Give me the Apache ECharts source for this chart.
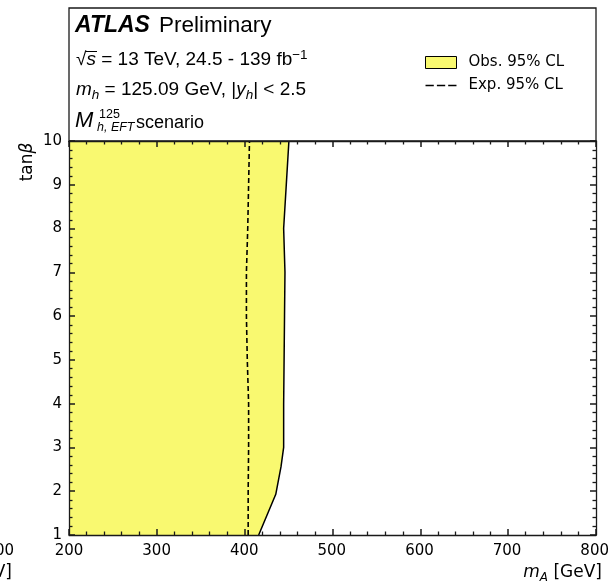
<!DOCTYPE html>
<html>
<head>
<meta charset="utf-8">
<script src="https://cdn.jsdelivr.net/npm/echarts@6/dist/echarts.min.js"></script>
<style>
  html, body { margin: 0; padding: 0; background: #fff; }
  #wrap { position: relative; width: 612px; height: 583px; }
  #chart, #frame { position: absolute; left: 0; top: 0; width: 612px; height: 583px; }
  #frame { pointer-events: none; }
</style>
</head>
<body>
<div id="wrap">
  <div id="chart"></div>
  <div id="frame"></div>
</div>
<script>
// Axis ranges
const mARange = [200, 800];
const tanBetaRange = [1, 10];

// Observed 95% CL exclusion boundary (m_A in GeV vs tan beta)
const obsTanBeta = [1, 1.93, 2.56, 3, 4, 5, 6, 7, 8, 9, 10];
const obsMA      = [416.5, 436, 442, 445, 445, 445.5, 446, 446.5, 445, 448, 451];

// Expected 95% CL boundary
const expTanBeta = [1, 2, 3, 4, 5, 6, 7, 8, 9, 10];
const expMA      = [404.5, 404.5, 405, 405, 403.5, 402.5, 402.5, 404, 405, 406];

const FILL = 'rgb(249,249,112)';
const AXIS = '#1a1a1a';
const MATH = 'DejaVu Sans';
const HEAD = 'Liberation Sans';
const GRID = { left: 69, right: 16, top: 141, bottom: 48, containLabel: false };

// dashed-line legend key: three short bars, with two specks fixing the icon box to 31x12
const DASH_ICON = 'path://M0,0h0.01v0.01h-0.01z M31,12h0.01v0.01h-0.01z ' +
  'M0,5.25h8.3v1.5h-8.3z M11.4,5.25h8.3v1.5h-8.3z M22.7,5.25h8.3v1.5h-8.3z';

const labelStyle = { color: '#000', fontSize: 15, fontFamily: MATH };

// ---------- main chart: filled region, boundaries, labels, legend ----------
function plainAxis(extra) {
  return Object.assign({
    type: 'value',
    axisLine: { show: false },
    axisTick: { show: false },
    minorTick: { show: false },
    splitLine: { show: false },
    minorSplitLine: { show: false }
  }, extra);
}

const chart = echarts.init(document.getElementById('chart'), null, { renderer: 'canvas' });
chart.setOption({
  animation: false,
  backgroundColor: '#fff',
  grid: GRID,
  xAxis: [plainAxis({ position: 'bottom', min: mARange[0], max: mARange[1], interval: 100,
    axisLabel: Object.assign({ margin: 9 }, labelStyle) })],
  yAxis: [plainAxis({ position: 'left', min: tanBetaRange[0], max: tanBetaRange[1], interval: 1,
    axisLabel: Object.assign({ margin: 7 }, labelStyle) })],
  legend: {
    orient: 'vertical',
    left: 425,
    top: 55,
    padding: 0,
    itemWidth: 31,
    itemHeight: 12,
    itemGap: 8,
    textStyle: { color: '#000', fontSize: 15, fontFamily: MATH, padding: [0, 0, 0, 7] },
    data: [
      { name: 'Obs. 95% CL', icon: 'rect', itemStyle: { color: FILL, borderColor: '#000', borderWidth: 1 } },
      { name: 'Exp. 95% CL', icon: DASH_ICON, itemStyle: { color: '#000', borderWidth: 0 } }
    ]
  },
  series: [
    {
      // excluded region: from the left edge of the axis up to the observed boundary
      name: 'Obs. 95% CL',
      type: 'custom',
      itemStyle: { color: FILL },
      data: [[mARange[0], tanBetaRange[0]]],
      renderItem: function (params, api) {
        const n = obsMA.length;
        const pts = [[mARange[0], obsTanBeta[0]]];
        for (let i = 0; i < n; i++) pts.push([obsMA[i], obsTanBeta[i]]);
        pts.push([mARange[0], obsTanBeta[n - 1]]);
        return {
          type: 'polygon',
          shape: { points: pts.map(p => api.coord(p)) },
          style: { fill: FILL, stroke: null }
        };
      },
      z: 1
    },
    {
      name: 'obs-boundary',
      type: 'line',
      data: obsMA.map((m, i) => [m, obsTanBeta[i]]),
      symbol: 'none',
      lineStyle: { color: '#000', width: 1.5 },
      z: 3
    },
    {
      name: 'Exp. 95% CL',
      type: 'line',
      data: expMA.map((m, i) => [m, expTanBeta[i]]),
      symbol: 'none',
      itemStyle: { color: '#000' },
      lineStyle: { color: '#000', width: 1.6, type: [5, 3] },
      z: 3
    }
  ],
  graphic: [
    // upper panel frame holding the labels
    { type: 'rect', shape: { x: 69, y: 8, width: 527, height: 133 },
      style: { fill: 'none', stroke: AXIS, lineWidth: 1.3 }, z: 10 },
    // ATLAS label
    { type: 'text', x: 75, y: 26, z: 10, style: {
        text: 'ATLAS', fontFamily: HEAD, fontWeight: 'bold', fontStyle: 'italic', fontSize: 23,
        fill: '#000', textVerticalAlign: 'middle' } },
    { type: 'text', x: 159, y: 26, z: 10, style: {
        text: 'Preliminary', fontFamily: HEAD, fontSize: 22.5, fill: '#000', textVerticalAlign: 'middle' } },
    // centre-of-mass energy and luminosity
    { type: 'text', x: 76, y: 60, z: 10, style: {
        text: '{n|√}{i|s}{n| = 13 TeV, 24.5 - 139 fb}{sup|−1}', textVerticalAlign: 'middle',
        rich: {
          n: { fontFamily: HEAD, fontSize: 19, fill: '#000', lineHeight: 24, verticalAlign: 'middle' },
          i: { fontFamily: HEAD, fontStyle: 'italic', fontSize: 19, fill: '#000', lineHeight: 24, verticalAlign: 'middle' },
          sup: { fontFamily: HEAD, fontSize: 13.5, fill: '#000', lineHeight: 14, verticalAlign: 'top' }
        } } },
    { type: 'line', shape: { x1: 86, y1: 51.5, x2: 97, y2: 51.5 }, style: { stroke: '#000', lineWidth: 1 }, z: 10 },
    // Higgs mass and rapidity
    { type: 'text', x: 76, y: 90, z: 10, style: {
        text: '{i|m}{sub|h}{n| = 125.09 GeV, |}{i|y}{sub|h}{n|| < 2.5}', textVerticalAlign: 'middle',
        rich: {
          n: { fontFamily: HEAD, fontSize: 19, fill: '#000', lineHeight: 24, verticalAlign: 'middle' },
          i: { fontFamily: HEAD, fontStyle: 'italic', fontSize: 19, fill: '#000', lineHeight: 24, verticalAlign: 'middle' },
          sub: { fontFamily: HEAD, fontStyle: 'italic', fontSize: 13.5, fill: '#000', lineHeight: 14, verticalAlign: 'bottom' }
        } } },
    // benchmark scenario name
    { type: 'text', x: 75, y: 121, z: 10, style: {
        text: 'M', fontFamily: HEAD, fontStyle: 'italic', fontSize: 22, fill: '#000', textVerticalAlign: 'middle' } },
    { type: 'text', x: 99, y: 115, z: 10, style: {
        text: '125', fontFamily: HEAD, fontSize: 12.5, fill: '#000', textVerticalAlign: 'middle' } },
    { type: 'text', x: 97, y: 128, z: 10, style: {
        text: 'h, EFT', fontFamily: HEAD, fontStyle: 'italic', fontSize: 12.5, fill: '#000', textVerticalAlign: 'middle' } },
    { type: 'text', x: 136, y: 123, z: 10, style: {
        text: 'scenario', fontFamily: HEAD, fontSize: 18, fill: '#000', textVerticalAlign: 'middle' } },
    // axis titles
    { type: 'text', x: 602, y: 573, z: 10, style: {
        text: '{i|m}{sub|A}{n| [GeV]}', textAlign: 'right', textVerticalAlign: 'middle',
        rich: {
          n: { fontFamily: MATH, fontSize: 17, fill: '#000', lineHeight: 22, verticalAlign: 'middle' },
          i: { fontFamily: MATH, fontStyle: 'italic', fontSize: 17, fill: '#000', lineHeight: 22, verticalAlign: 'middle' },
          sub: { fontFamily: MATH, fontStyle: 'italic', fontSize: 12, fill: '#000', lineHeight: 13, verticalAlign: 'bottom' }
        } } },
    { type: 'text', x: 28, y: 162, rotation: Math.PI / 2, z: 10, style: {
        text: '{n|tan}{i|β}', textAlign: 'center', textVerticalAlign: 'middle',
        rich: {
          n: { fontFamily: MATH, fontSize: 17, fill: '#000' },
          i: { fontFamily: MATH, fontStyle: 'italic', fontSize: 17, fill: '#000' }
        } } },
    // edge of the neighbouring panel
    { type: 'text', x: 14, y: 551, z: 10, style: {
        text: '800', fontFamily: MATH, fontSize: 15, fill: '#000', textAlign: 'right', textVerticalAlign: 'middle' } },
    { type: 'text', x: 12, y: 573, z: 10, style: {
        text: '[GeV]', fontFamily: MATH, fontSize: 17, fill: '#000', textAlign: 'right', textVerticalAlign: 'middle' } }
  ]
});

// ---------- frame layer: axis lines with inward major and minor ticks on all four sides ----------
function frameAxis(extra) {
  return Object.assign({
    type: 'value',
    z: 10,
    axisLine: { show: true, onZero: false, lineStyle: { color: AXIS, width: 1.3 } },
    axisTick: { show: true, inside: true, length: 6, lineStyle: { color: AXIS, width: 1.5 } },
    minorTick: { show: true, splitNumber: 5, length: 3.5, lineStyle: { color: AXIS, width: 1.3 } },
    axisLabel: { show: false },
    splitLine: { show: false },
    minorSplitLine: { show: false }
  }, extra);
}

const frame = echarts.init(document.getElementById('frame'), null, { renderer: 'canvas' });
frame.setOption({
  animation: false,
  grid: GRID,
  xAxis: [
    frameAxis({ position: 'bottom', min: mARange[0], max: mARange[1], interval: 100 }),
    frameAxis({ position: 'top', min: mARange[0], max: mARange[1], interval: 100 })
  ],
  yAxis: [
    frameAxis({ position: 'left', min: tanBetaRange[0], max: tanBetaRange[1], interval: 1 }),
    frameAxis({ position: 'right', min: tanBetaRange[0], max: tanBetaRange[1], interval: 1 })
  ],
  series: [{ type: 'line', data: [], silent: true }]
});
</script>
</body>
</html>
